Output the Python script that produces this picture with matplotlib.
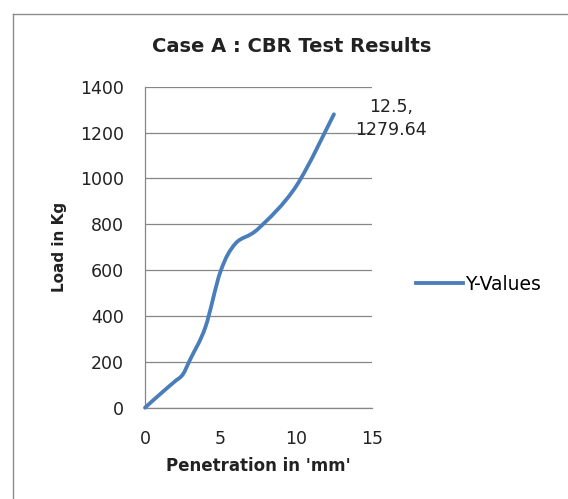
import numpy as np
import matplotlib
matplotlib.use("Agg")
import matplotlib.pyplot as plt
from matplotlib.path import Path
from matplotlib.patches import PathPatch
from matplotlib.lines import Line2D

# CBR test, case A
penetration = [0, 0.5, 1.0, 1.5, 2.0, 2.5, 3.0, 4.0, 5.0, 6.0, 7.5, 10.0, 12.5]
load = [0, 30, 59, 88, 116, 145, 212, 352, 595, 717, 781, 966, 1279.64]
xticks = [0, 5, 10, 15]
yticks = [0, 200, 400, 600, 800, 1000, 1200, 1400]
series_name = "Y-Values"

blue = "#4a7ebb"
grey = "#868686"

plt.rcParams['font.family'] = ['DejaVu Sans']

fig = plt.figure(figsize=(5.68, 4.99), dpi=100)
ax = fig.add_axes([145/568, 1-407.7/499, 226.7/568, 321/499])

# excel style smoothed line (bezier through the points)
pts = np.column_stack([penetration, load])
n = len(pts)
verts = [pts[0]]
codes = [Path.MOVETO]
for i in range(n - 1):
    prev = pts[max(i - 1, 0)]
    nxt = pts[min(i + 2, n - 1)]
    c1 = pts[i] + (pts[i + 1] - prev) / 6
    c2 = pts[i + 1] - (nxt - pts[i]) / 6
    verts += [c1, c2, pts[i + 1]]
    codes += [Path.CURVE4] * 3
curve = PathPatch(Path(verts, codes), fill=False, edgecolor=blue, lw=2.75,
                  capstyle='round', joinstyle='round', clip_on=False, zorder=3)
ax.add_patch(curve)

ax.set_xlim(0, 15)
ax.set_ylim(0, 1400)
ax.set_xticks(xticks)
ax.set_yticks(yticks)
ax.tick_params(length=0, labelsize=12.5, colors="#222222")
ax.tick_params(axis='y', pad=15)
ax.tick_params(axis='x', pad=16)
ax.grid(axis='y', color=grey, lw=0.9)
ax.set_axisbelow(True)
for s in ['top', 'right']:
    ax.spines[s].set_visible(False)
for s in ['left', 'bottom']:
    ax.spines[s].set_color(grey)
    ax.spines[s].set_linewidth(0.9)

ax.set_xlabel("Penetration in 'mm'", fontsize=12, fontweight='bold', color="#222222")
ax.xaxis.set_label_coords(0.5, -0.155)
ax.set_ylabel("Load in Kg", fontsize=11, fontweight='bold', color="#222222")
ax.yaxis.set_label_coords(-0.345, 0.5)

fig.text(0.513, 1-52/499, "Case A : CBR Test Results", fontsize=14,
         fontweight='bold', ha='center', va='baseline', color="#222222")

ax.annotate(f"{penetration[-1]},\n{load[-1]}", xy=(penetration[-1], load[-1]),
            xytext=(41, -3), textcoords='offset points', ha='center', va='center',
            multialignment='center', fontsize=12.5, linespacing=1.35,
            color="#222222", annotation_clip=False)

handle = Line2D([], [], color=blue, lw=2.75)
fig.legend([handle], [series_name], loc='center left',
           bbox_to_anchor=(416/568, 1-284/499), frameon=False, fontsize=13.5,
           handlelength=2.5, handletextpad=0.1, borderpad=0, borderaxespad=0)

# chart area border
fig.add_artist(Line2D([12.5/568, 12.5/568], [0, 1-13.5/499], color="#8c8c8c", lw=1))
fig.add_artist(Line2D([12.5/568, 1], [1-13.5/499, 1-13.5/499], color="#8c8c8c", lw=1))

fig.savefig("out.png", dpi=100)
